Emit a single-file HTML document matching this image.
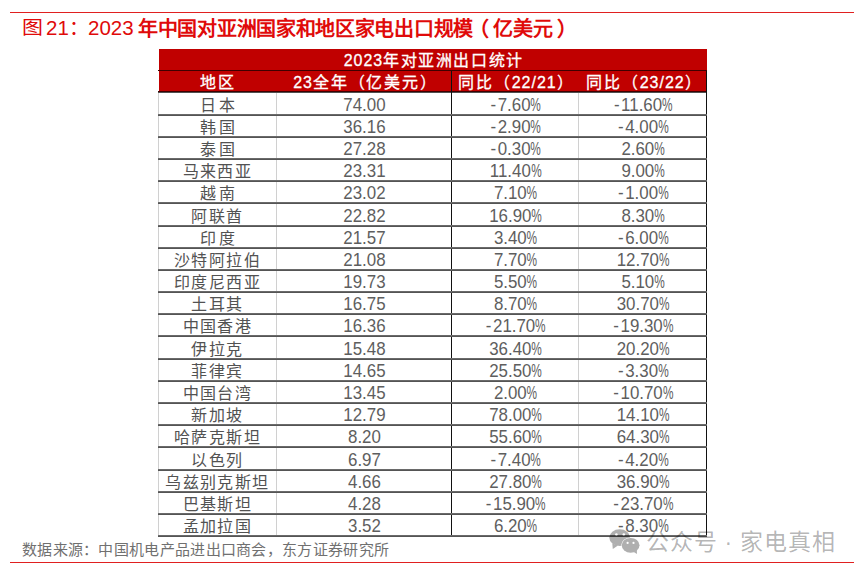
<!DOCTYPE html>
<html lang="zh-CN"><head><meta charset="utf-8"><style>
*{margin:0;padding:0;box-sizing:border-box}
html,body{width:862px;height:576px;overflow:hidden;background:#fff}
body{position:relative;font-family:"Liberation Sans",sans-serif}
.a{position:absolute}
.l1{position:absolute;height:1px;background:#6a6a6a}
.l2{position:absolute;height:1px;background:#555}
.vl{position:absolute;width:1px}
.c{position:absolute;text-align:center;white-space:nowrap;height:22px;line-height:22px}
.k{font-size:16px;letter-spacing:1.4px;color:#525252;padding-left:1px}
.n{font-size:17.8px;transform:scaleX(0.95);letter-spacing:0px;color:#5e5e5e;padding-left:2px}
.pc{display:inline-block;transform:scaleX(0.7);transform-origin:0 50%;width:10.8px;text-align:left}
.h{position:absolute;text-align:center;white-space:nowrap;color:#fff;font-size:16px;line-height:21px;letter-spacing:1.6px;-webkit-text-stroke:0.3px #fff}
.d{letter-spacing:0}
.mi{letter-spacing:1.6px;padding-left:0.5px}
.h1 .d{letter-spacing:0.9px}
.h2 .d{letter-spacing:1.0px}
.h2{letter-spacing:1.8px;padding-left:1.8px}
.h1{padding-left:1.6px}
.ti{position:absolute;top:16px;font-size:20px;line-height:26px;color:#e00a0a;white-space:nowrap}
.src{position:absolute;left:22px;top:541px;font-size:15px;letter-spacing:0.3px;line-height:18px;color:#707070;white-space:nowrap}
.wm{position:absolute;left:646px;top:528px;font-size:23px;letter-spacing:0.8px;line-height:28px;color:rgba(0,0,0,0.3);white-space:nowrap}
</style></head><body>
<div class="a" style="left:10px;top:12px;width:844px;height:1px;background:#e02020"></div>
<div class="ti" style="left:21.5px;top:16.2px;transform:scale(1.05,0.92);transform-origin:0 0">图</div>
<div class="ti" style="left:46px;top:15px;font-size:20.5px">21</div>
<div class="ti" style="left:69px;top:15px">：</div>
<div class="ti" style="left:88px;top:15px;font-size:20.5px">2023</div>
<div class="ti" style="left:138px;font-weight:bold;letter-spacing:-0.3px">年中国对亚洲国家和地区家电出口规模</div>
<div class="ti" style="left:468.5px;font-weight:bold">（</div>
<div class="ti" style="left:493px;font-weight:bold;letter-spacing:0px">亿美元</div>
<div class="ti" style="left:557px;font-weight:bold">）</div>
<div class="a" style="left:159px;top:49px;width:548px;height:43px;background:#c00000"></div>
<div class="a" style="left:158px;top:70px;width:549px;height:1px;background:#400000"></div>
<div class="a" style="left:158px;top:91px;width:549px;height:1px;background:#400000"></div>
<div class="a" style="left:158px;top:92px;width:549px;height:1px;background:#505050"></div>

<div class="h h1" style="left:159px;top:50px;width:548px"><span class="d">2023</span>年对亚洲出口统计</div>
<div class="h h2" style="left:158px;top:72px;width:118px">地区</div>
<div class="h h2" style="left:277px;top:72px;width:175px"><span class="d">23</span>全年（亿美元）</div>
<div class="h h2" style="left:452px;top:72px;width:127px">同比（<span class="d">22/21</span>）</div>
<div class="h h2" style="left:579.5px;top:72px;width:128px">同比（<span class="d">23/22</span>）</div>
<div class="vl" style="left:158px;top:93px;height:443px;background:#d0d0d0"></div>
<div class="vl" style="left:276px;top:93px;height:443px;background:#d0d0d0"></div>
<div class="vl" style="left:451px;top:71px;height:466px;background:#111"></div>
<div class="vl" style="left:578px;top:93px;height:443px;background:#d0d0d0"></div>
<div class="vl" style="left:706px;top:71px;height:466px;background:#111"></div>
<div class="l1" style="left:158px;top:114px;width:549px"></div><div class="l2" style="left:158px;top:115px;width:549px"></div>
<div class="c k" style="left:158px;top:95px;width:118px;letter-spacing:2.5999999999999996px;padding-left:3.2px;">日本</div>
<div class="c n" style="left:276px;top:94px;width:175px;">74.00</div>
<div class="c n" style="left:451px;top:94px;width:127px;"><span class="mi">-</span>7.60<span class="pc">%</span></div>
<div class="c n" style="left:578px;top:94px;width:128px;"><span class="mi">-</span>11.60<span class="pc">%</span></div>
<div class="l1" style="left:158px;top:136px;width:549px"></div><div class="l2" style="left:158px;top:137px;width:549px"></div>
<div class="c k" style="left:158px;top:117px;width:118px;letter-spacing:2.5999999999999996px;padding-left:3.2px;">韩国</div>
<div class="c n" style="left:276px;top:116px;width:175px;">36.16</div>
<div class="c n" style="left:451px;top:116px;width:127px;"><span class="mi">-</span>2.90<span class="pc">%</span></div>
<div class="c n" style="left:578px;top:116px;width:128px;"><span class="mi">-</span>4.00<span class="pc">%</span></div>
<div class="l1" style="left:158px;top:158px;width:549px"></div><div class="l2" style="left:158px;top:159px;width:549px"></div>
<div class="c k" style="left:158px;top:139px;width:118px;letter-spacing:2.5999999999999996px;padding-left:3.2px;">泰国</div>
<div class="c n" style="left:276px;top:138px;width:175px;">27.28</div>
<div class="c n" style="left:451px;top:138px;width:127px;"><span class="mi">-</span>0.30<span class="pc">%</span></div>
<div class="c n" style="left:578px;top:138px;width:128px;">2.60<span class="pc">%</span></div>
<div class="l1" style="left:158px;top:180px;width:549px"></div><div class="l2" style="left:158px;top:181px;width:549px"></div>
<div class="c k" style="left:158px;top:161px;width:118px;">马来西亚</div>
<div class="c n" style="left:276px;top:160px;width:175px;">23.31</div>
<div class="c n" style="left:451px;top:160px;width:127px;">11.40<span class="pc">%</span></div>
<div class="c n" style="left:578px;top:160px;width:128px;">9.00<span class="pc">%</span></div>
<div class="l1" style="left:158px;top:202px;width:549px"></div><div class="l2" style="left:158px;top:203px;width:549px"></div>
<div class="c k" style="left:158px;top:183px;width:118px;letter-spacing:2.5999999999999996px;padding-left:3.2px;">越南</div>
<div class="c n" style="left:276px;top:182px;width:175px;">23.02</div>
<div class="c n" style="left:451px;top:182px;width:127px;">7.10<span class="pc">%</span></div>
<div class="c n" style="left:578px;top:182px;width:128px;"><span class="mi">-</span>1.00<span class="pc">%</span></div>
<div class="l1" style="left:158px;top:225px;width:549px"></div><div class="l2" style="left:158px;top:226px;width:549px"></div>
<div class="c k" style="left:158px;top:206px;width:118px;">阿联酋</div>
<div class="c n" style="left:276px;top:205px;width:175px;">22.82</div>
<div class="c n" style="left:451px;top:205px;width:127px;">16.90<span class="pc">%</span></div>
<div class="c n" style="left:578px;top:205px;width:128px;">8.30<span class="pc">%</span></div>
<div class="l1" style="left:158px;top:247px;width:549px"></div><div class="l2" style="left:158px;top:248px;width:549px"></div>
<div class="c k" style="left:158px;top:228px;width:118px;letter-spacing:2.5999999999999996px;padding-left:3.2px;">印度</div>
<div class="c n" style="left:276px;top:227px;width:175px;">21.57</div>
<div class="c n" style="left:451px;top:227px;width:127px;">3.40<span class="pc">%</span></div>
<div class="c n" style="left:578px;top:227px;width:128px;"><span class="mi">-</span>6.00<span class="pc">%</span></div>
<div class="l1" style="left:158px;top:269px;width:549px"></div><div class="l2" style="left:158px;top:270px;width:549px"></div>
<div class="c k" style="left:158px;top:250px;width:118px;">沙特阿拉伯</div>
<div class="c n" style="left:276px;top:249px;width:175px;">21.08</div>
<div class="c n" style="left:451px;top:249px;width:127px;">7.70<span class="pc">%</span></div>
<div class="c n" style="left:578px;top:249px;width:128px;">12.70<span class="pc">%</span></div>
<div class="l1" style="left:158px;top:291px;width:549px"></div><div class="l2" style="left:158px;top:292px;width:549px"></div>
<div class="c k" style="left:158px;top:272px;width:118px;">印度尼西亚</div>
<div class="c n" style="left:276px;top:271px;width:175px;">19.73</div>
<div class="c n" style="left:451px;top:271px;width:127px;">5.50<span class="pc">%</span></div>
<div class="c n" style="left:578px;top:271px;width:128px;">5.10<span class="pc">%</span></div>
<div class="l1" style="left:158px;top:313px;width:549px"></div><div class="l2" style="left:158px;top:314px;width:549px"></div>
<div class="c k" style="left:158px;top:294px;width:118px;">土耳其</div>
<div class="c n" style="left:276px;top:293px;width:175px;">16.75</div>
<div class="c n" style="left:451px;top:293px;width:127px;">8.70<span class="pc">%</span></div>
<div class="c n" style="left:578px;top:293px;width:128px;">30.70<span class="pc">%</span></div>
<div class="l1" style="left:158px;top:335px;width:549px"></div><div class="l2" style="left:158px;top:336px;width:549px"></div>
<div class="c k" style="left:158px;top:316px;width:118px;">中国香港</div>
<div class="c n" style="left:276px;top:315px;width:175px;">16.36</div>
<div class="c n" style="left:451px;top:315px;width:127px;"><span class="mi">-</span>21.70<span class="pc">%</span></div>
<div class="c n" style="left:578px;top:315px;width:128px;"><span class="mi">-</span>19.30<span class="pc">%</span></div>
<div class="l1" style="left:158px;top:358px;width:549px"></div><div class="l2" style="left:158px;top:359px;width:549px"></div>
<div class="c k" style="left:158px;top:339px;width:118px;">伊拉克</div>
<div class="c n" style="left:276px;top:338px;width:175px;">15.48</div>
<div class="c n" style="left:451px;top:338px;width:127px;">36.40<span class="pc">%</span></div>
<div class="c n" style="left:578px;top:338px;width:128px;">20.20<span class="pc">%</span></div>
<div class="l1" style="left:158px;top:380px;width:549px"></div><div class="l2" style="left:158px;top:381px;width:549px"></div>
<div class="c k" style="left:158px;top:361px;width:118px;">菲律宾</div>
<div class="c n" style="left:276px;top:360px;width:175px;">14.65</div>
<div class="c n" style="left:451px;top:360px;width:127px;">25.50<span class="pc">%</span></div>
<div class="c n" style="left:578px;top:360px;width:128px;"><span class="mi">-</span>3.30<span class="pc">%</span></div>
<div class="l1" style="left:158px;top:402px;width:549px"></div><div class="l2" style="left:158px;top:403px;width:549px"></div>
<div class="c k" style="left:158px;top:383px;width:118px;">中国台湾</div>
<div class="c n" style="left:276px;top:382px;width:175px;">13.45</div>
<div class="c n" style="left:451px;top:382px;width:127px;">2.00<span class="pc">%</span></div>
<div class="c n" style="left:578px;top:382px;width:128px;"><span class="mi">-</span>10.70<span class="pc">%</span></div>
<div class="l1" style="left:158px;top:424px;width:549px"></div><div class="l2" style="left:158px;top:425px;width:549px"></div>
<div class="c k" style="left:158px;top:405px;width:118px;">新加坡</div>
<div class="c n" style="left:276px;top:404px;width:175px;">12.79</div>
<div class="c n" style="left:451px;top:404px;width:127px;">78.00<span class="pc">%</span></div>
<div class="c n" style="left:578px;top:404px;width:128px;">14.10<span class="pc">%</span></div>
<div class="l1" style="left:158px;top:446px;width:549px"></div><div class="l2" style="left:158px;top:447px;width:549px"></div>
<div class="c k" style="left:158px;top:427px;width:118px;">哈萨克斯坦</div>
<div class="c n" style="left:276px;top:426px;width:175px;">8.20</div>
<div class="c n" style="left:451px;top:426px;width:127px;">55.60<span class="pc">%</span></div>
<div class="c n" style="left:578px;top:426px;width:128px;">64.30<span class="pc">%</span></div>
<div class="l1" style="left:158px;top:469px;width:549px"></div><div class="l2" style="left:158px;top:470px;width:549px"></div>
<div class="c k" style="left:158px;top:450px;width:118px;">以色列</div>
<div class="c n" style="left:276px;top:449px;width:175px;">6.97</div>
<div class="c n" style="left:451px;top:449px;width:127px;"><span class="mi">-</span>7.40<span class="pc">%</span></div>
<div class="c n" style="left:578px;top:449px;width:128px;"><span class="mi">-</span>4.20<span class="pc">%</span></div>
<div class="l1" style="left:158px;top:491px;width:549px"></div><div class="l2" style="left:158px;top:492px;width:549px"></div>
<div class="c k" style="left:158px;top:472px;width:118px;">乌兹别克斯坦</div>
<div class="c n" style="left:276px;top:471px;width:175px;">4.66</div>
<div class="c n" style="left:451px;top:471px;width:127px;">27.80<span class="pc">%</span></div>
<div class="c n" style="left:578px;top:471px;width:128px;">36.90<span class="pc">%</span></div>
<div class="l1" style="left:158px;top:513px;width:549px"></div><div class="l2" style="left:158px;top:514px;width:549px"></div>
<div class="c k" style="left:158px;top:494px;width:118px;">巴基斯坦</div>
<div class="c n" style="left:276px;top:493px;width:175px;">4.28</div>
<div class="c n" style="left:451px;top:493px;width:127px;"><span class="mi">-</span>15.90<span class="pc">%</span></div>
<div class="c n" style="left:578px;top:493px;width:128px;"><span class="mi">-</span>23.70<span class="pc">%</span></div>
<div class="l1" style="left:158px;top:535px;width:549px"></div><div class="l2" style="left:158px;top:536px;width:549px"></div>
<div class="c k" style="left:158px;top:516px;width:118px;">孟加拉国</div>
<div class="c n" style="left:276px;top:515px;width:175px;">3.52</div>
<div class="c n" style="left:451px;top:515px;width:127px;">6.20<span class="pc">%</span></div>
<div class="c n" style="left:578px;top:515px;width:128px;"><span class="mi">-</span>8.30<span class="pc">%</span></div>
<div class="src">数据来源：中国机电产品进出口商会，东方证券研究所</div>
<div class="a" style="left:10px;top:562px;width:844px;height:1px;background:#e02020"></div>
<svg class="a" style="left:600px;top:520px" width="50" height="40" viewBox="600 520 50 40">
<g opacity="0.31">
<ellipse cx="619.7" cy="537.6" rx="10.4" ry="8.4" fill="#000"/>
<path d="M612.3 543.5 L612.8 549 L618 545.5 Z" fill="#000"/>
<ellipse cx="630.6" cy="545.3" rx="9.4" ry="7.9" fill="#fff"/>
<ellipse cx="630.6" cy="545.3" rx="8.9" ry="7.4" fill="#000"/>
<path d="M633 551.5 L637 554 L636.8 549.5 Z" fill="#000"/>
<circle cx="616.4" cy="534.6" r="1.3" fill="#fff"/>
<circle cx="623.8" cy="534.6" r="1.3" fill="#fff"/>
<circle cx="627.6" cy="542.9" r="1.1" fill="#fff"/>
<circle cx="633.5" cy="542.9" r="1.1" fill="#fff"/>
</g>
</svg>
<div class="wm">公众号 · 家电真相</div>
</body></html>
